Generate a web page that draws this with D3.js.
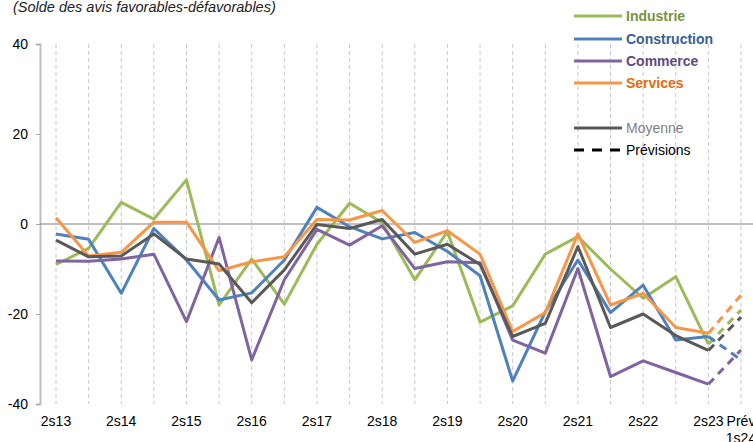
<!DOCTYPE html>
<html>
<head>
<meta charset="utf-8">
<script src="https://cdn.jsdelivr.net/npm/d3@7"></script>
<style>
  body { margin: 0; background: #fff; }
  svg { font-family: "Liberation Sans", Arial, sans-serif; }
</style>
</head>
<body>
<div id="chart"></div>
<script>
// periods (half-years), last one is the forecast
let periods = ["2s13","1s14","2s14","1s15","2s15","1s16","2s16","1s17","2s17","1s18","2s18",
  "1s19","2s19","1s20","2s20","1s21","2s21","1s22","2s22","1s23","2s23","Prév 1s24"];
let tickLabels = ["2s13","","2s14","","2s15","","2s16","","2s17","","2s18",
  "","2s19","","2s20","","2s21","","2s22","","2s23","Prév|1s24"];

let industrie    = [-9,-5.4,4.8,1.1,9.8,-18,-7.8,-17.8,-4.5,4.6,0.3,-12.4,-1.7,-21.8,-18.2,-6.7,-2.8,-10,-16.5,-11.7,-26.7,-19.1];
let construction = [-2.2,-3.4,-15.4,-1,-8,-16.9,-15.3,-8,3.7,-0.6,-3.3,-1.9,-6.1,-11.5,-34.9,-19.5,-8,-19.7,-13.6,-25.8,-25,-30.2];
let commerce     = [-8.2,-8.3,-7.8,-6.7,-21.7,-3,-30.2,-12.4,-1.2,-4.7,-0.4,-9.9,-8.4,-8.6,-25.8,-28.7,-9.9,-33.9,-30.4,-33,-35.6,-28];
let services     = [1.4,-7.1,-6.3,0.4,0.4,-10.4,-8.4,-7.3,1,0.9,3,-4.1,-1.5,-6.7,-23.9,-19.7,-2.2,-18,-15.4,-23,-24.3,-15.8];
let moyenne      = [-3.6,-7.3,-7.1,-2.2,-7.8,-8.9,-17.5,-10.2,-0.1,-1,1,-6.7,-4.5,-9,-25,-22.1,-5,-23,-20,-24.8,-28.1,-20.7];

let yTicks = [-40,-20,0,20,40];

let series = [
  {name: "Industrie", values: industrie, color: "#9bbb59", text: "#77933c", bold: true},
  {name: "Construction", values: construction, color: "#4f81bd", text: "#376092", bold: true},
  {name: "Commerce", values: commerce, color: "#8064a2", text: "#604a7b", bold: true},
  {name: "Services", values: services, color: "#f79646", text: "#e46c0a", bold: true},
  {name: "Moyenne", values: moyenne, color: "#595959", text: "#7f7f7f", bold: false}
];

let width = 753, height = 442;

let svg = d3.select("#chart")
  .append("svg")
  .attr("width", width)
  .attr("height", height);

let x = d3.scalePoint()
  .domain(periods)
  .range([56, 741]);

let y = d3.scaleLinear()
  .domain([-40, 40])
  .range([404, 44]);

// title
svg.append("text")
  .attr("x", 13)
  .attr("y", 12)
  .style("font-size", "14.5px")
  .style("font-style", "italic")
  .attr("fill", "#222")
  .text("(Solde des avis favorables-défavorables)");

// vertical dashed grid
svg.append("g")
  .selectAll("line")
  .data(periods)
  .enter()
  .append("line")
  .attr("x1", d => x(d))
  .attr("x2", d => x(d))
  .attr("y1", y(40))
  .attr("y2", y(-40))
  .attr("stroke", "#c8c8c8")
  .attr("stroke-width", 1)
  .attr("stroke-dasharray", "4,3");

// y axis
let yAxis = svg.append("g")
  .attr("transform", "translate(40,0)")
  .call(d3.axisLeft(y).tickValues(yTicks).tickSize(4).tickPadding(8).tickFormat(d3.format("d")));
yAxis.select(".domain").attr("stroke", "#bfbfbf").attr("stroke-width", 2);
yAxis.selectAll(".tick line").attr("stroke", "#a6a6a6");
yAxis.selectAll(".tick text").style("font-size", "14px").attr("fill", "#000")
  .text(d => d < 0 ? "-" + Math.abs(d) : d);

// zero line
svg.append("line")
  .attr("x1", 40)
  .attr("x2", width)
  .attr("y1", y(0))
  .attr("y2", y(0))
  .attr("stroke", "#808080")
  .attr("stroke-width", 1.2);

// x labels
let xl = svg.append("g");
periods.forEach(function(p, i) {
  let lab = tickLabels[i];
  if (!lab) return;
  let t = xl.append("text")
    .attr("x", x(p))
    .attr("y", 426)
    .style("text-anchor", "middle")
    .style("font-size", "14px")
    .attr("fill", "#000");
  let parts = lab.split("|");
  parts.forEach(function(s, k) {
    t.append("tspan").attr("x", x(p)).attr("dy", k == 0 ? 0 : 17).text(s);
  });
});

let line = d3.line()
  .x(d => x(d.p))
  .y(d => y(d.v));

let n = periods.length;
series.forEach(function(s) {
  let pts = s.values.map((v, i) => ({p: periods[i], v: v}));
  svg.append("path")
    .datum(pts.slice(0, n - 1))
    .attr("d", line)
    .attr("fill", "none")
    .attr("stroke", s.color)
    .attr("stroke-width", 3)
    .attr("stroke-linejoin", "round");
  svg.append("path")
    .datum(pts.slice(n - 2))
    .attr("d", line)
    .attr("fill", "none")
    .attr("stroke", s.color)
    .attr("stroke-width", 3)
    .attr("stroke-dasharray", "8,6");
});

// legend
let legendRows = [
  {s: series[0], y: 16}, {s: series[1], y: 39}, {s: series[2], y: 61}, {s: series[3], y: 83},
  {s: series[4], y: 128}
];
let lg = svg.append("g");
legendRows.forEach(function(r) {
  lg.append("line")
    .attr("x1", 574).attr("x2", 622)
    .attr("y1", r.y).attr("y2", r.y)
    .attr("stroke", r.s.color)
    .attr("stroke-width", 3);
  lg.append("text")
    .attr("x", 626)
    .attr("y", r.y + 5)
    .style("font-size", "14px")
    .style("font-weight", r.s.bold ? "bold" : "normal")
    .attr("fill", r.s.text)
    .text(r.s.name);
});
lg.append("line")
  .attr("x1", 574).attr("x2", 622)
  .attr("y1", 150).attr("y2", 150)
  .attr("stroke", "#000")
  .attr("stroke-width", 3)
  .attr("stroke-dasharray", "10,8");
lg.append("text")
  .attr("x", 626)
  .attr("y", 155)
  .style("font-size", "14px")
  .attr("fill", "#000")
  .text("Prévisions");
</script>
</body>
</html>
